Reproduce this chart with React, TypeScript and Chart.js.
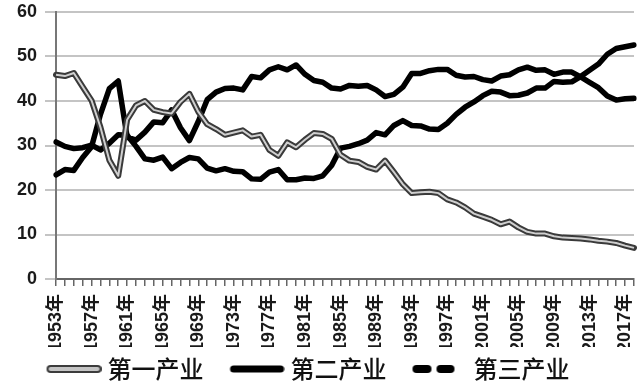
import { useEffect, useRef } from "react";
import { Chart, registerables } from "chart.js";

Chart.register(...registerables);

const years = [
  1953, 1954, 1955, 1956, 1957, 1958, 1959, 1960, 1961, 1962,
  1963, 1964, 1965, 1966, 1967, 1968, 1969, 1970, 1971, 1972,
  1973, 1974, 1975, 1976, 1977, 1978, 1979, 1980, 1981, 1982,
  1983, 1984, 1985, 1986, 1987, 1988, 1989, 1990, 1991, 1992,
  1993, 1994, 1995, 1996, 1997, 1998, 1999, 2000, 2001, 2002,
  2003, 2004, 2005, 2006, 2007, 2008, 2009, 2010, 2011, 2012,
  2013, 2014, 2015, 2016, 2017, 2018,
];

const shownYears = [1953, 1957, 1961, 1965, 1969, 1973, 1977, 1981, 1985, 1989, 1993, 1997, 2001, 2005, 2009, 2013, 2017];

const primary = [
  45.9, 45.6, 46.3, 43.2, 40.1, 34.1, 26.7, 23.2, 35.8, 39.0,
  40.0, 38.0, 37.5, 37.2, 39.8, 41.6, 37.6, 34.8, 33.7, 32.4,
  32.9, 33.4, 32.0, 32.4, 29.0, 27.7, 30.7, 29.6, 31.3, 32.8,
  32.6, 31.5, 27.9, 26.6, 26.3, 25.2, 24.6, 26.6, 24.0, 21.3,
  19.3, 19.5, 19.6, 19.3, 17.9, 17.2, 16.1, 14.7, 14.0, 13.3,
  12.3, 12.9, 11.6, 10.6, 10.2, 10.2, 9.6, 9.3, 9.2, 9.1,
  8.9, 8.6, 8.4, 8.1, 7.5, 7.0,
];

const secondary = [
  23.4, 24.6, 24.4, 27.3, 29.7, 37.0, 42.8, 44.5, 31.9, 31.2,
  33.0, 35.3, 35.1, 38.0, 34.0, 31.1, 35.4, 40.3, 42.0, 42.8,
  42.9, 42.5, 45.5, 45.2, 47.0, 47.7, 47.0, 48.1, 46.0, 44.6,
  44.2, 42.9, 42.7, 43.5, 43.3, 43.5, 42.5, 41.0, 41.5, 43.1,
  46.2, 46.2, 46.8, 47.1, 47.1, 45.8, 45.4, 45.5, 44.8, 44.5,
  45.6, 45.9, 47.0, 47.6, 46.9, 47.0, 46.0, 46.5, 46.5, 45.4,
  44.2, 43.0, 41.1, 40.2, 40.5, 40.6,
];

const tertiary = [
  30.8, 29.8, 29.3, 29.5, 30.1, 29.0, 30.5, 32.4, 32.3, 29.8,
  27.0, 26.7, 27.4, 24.8, 26.2, 27.3, 27.0, 24.9, 24.3, 24.8,
  24.2, 24.1, 22.5, 22.4, 24.0, 24.6, 22.3, 22.3, 22.7, 22.6,
  23.2, 25.5, 29.4, 29.8, 30.4, 31.2, 32.9, 32.4, 34.5, 35.6,
  34.5, 34.4, 33.7, 33.6, 35.0, 37.0, 38.6, 39.8, 41.2, 42.2,
  42.0, 41.2, 41.3, 41.8, 42.9, 42.9, 44.4, 44.2, 44.3, 45.5,
  46.9, 48.3, 50.5, 51.8, 52.2, 52.6,
];

const seriesNames = ["第一产业", "第二产业", "第三产业"];
const yMin = 0;
const yMax = 60;
const yStep = 10;

function makeSwatch(kind: string): HTMLCanvasElement {
  const c = document.createElement("canvas");
  c.width = 77;
  c.height = 12;
  const g = c.getContext("2d")!;
  g.lineCap = "round";
  if (kind === "primary") {
    g.strokeStyle = "#3c3c3c";
    g.lineWidth = 8;
    g.beginPath(); g.moveTo(26, 6); g.lineTo(73, 6); g.stroke();
    g.strokeStyle = "#c4c4c4";
    g.lineWidth = 4;
    g.beginPath(); g.moveTo(26, 6); g.lineTo(73, 6); g.stroke();
  } else if (kind === "secondary") {
    g.strokeStyle = "#000";
    g.lineWidth = 7;
    g.beginPath(); g.moveTo(26, 6); g.lineTo(73, 6); g.stroke();
  } else {
    g.strokeStyle = "#000";
    g.lineWidth = 8;
    g.beginPath(); g.moveTo(26, 6); g.lineTo(37, 6); g.stroke();
    g.beginPath(); g.moveTo(50, 6); g.lineTo(60, 6); g.stroke();
  }
  return c;
}

const legendShift = {
  id: "legendShift",
  afterLayout(chart: any) {
    if (chart.legend) {
      chart.legend.left -= 17;
      chart.legend.right -= 17;
    }
  },
};

export default function App() {
  const ref = useRef<HTMLCanvasElement | null>(null);

  useEffect(() => {
    document.body.style.margin = "0";
    const canvas = ref.current;
    if (!canvas) return;
    const labels = years.map((y) => y + "年");
    const chart = new Chart(canvas, {
      type: "line",
      plugins: [legendShift],
      data: {
        labels,
        datasets: [
          {
            label: "overlay",
            data: primary,
            borderColor: "#cfcfcf",
            borderWidth: 2,
            pointRadius: 0,
            tension: 0,
            order: 0,
            borderJoinStyle: "round",
          },
          {
            label: seriesNames[0],
            data: primary,
            borderColor: "#3a3a3a",
            borderWidth: 6,
            pointRadius: 0,
            pointStyle: makeSwatch("primary"),
            tension: 0,
            order: 1,
            borderJoinStyle: "round",
            borderCapStyle: "round",
          },
          {
            label: seriesNames[1],
            data: secondary,
            borderColor: "#000",
            borderWidth: 5.5,
            pointRadius: 0,
            pointStyle: makeSwatch("secondary"),
            tension: 0,
            order: 2,
            borderJoinStyle: "round",
            borderCapStyle: "round",
          },
          {
            label: seriesNames[2],
            data: tertiary,
            borderColor: "#000",
            borderWidth: 5.5,
            pointRadius: 0,
            pointStyle: makeSwatch("tertiary"),
            tension: 0,
            order: 3,
            borderJoinStyle: "round",
            borderCapStyle: "round",
          },
        ],
      },
      options: {
        responsive: false,
        animation: false,
        layout: { padding: { top: 12, right: 6, left: 0, bottom: -10 } },
        plugins: {
          tooltip: { enabled: false },
          legend: {
            position: "bottom",
            labels: {
              usePointStyle: true,
              pointStyleWidth: 65,
              padding: 10,
              color: "#111",
              font: { size: 24, weight: "500", family: "'Noto Sans CJK SC', sans-serif" },
              filter: (item: any) => item.text !== "overlay",
            },
          },
        },
        scales: {
          x: {
            type: "category",
            offset: false,
            grid: {
              drawOnChartArea: false,
              drawTicks: true,
              tickLength: 7,
              color: "#666",
              lineWidth: 1.5,
            },
            border: { display: true, color: "#666", width: 2 },
            ticks: {
              autoSkip: false,
              maxRotation: 90,
              minRotation: 90,
              padding: 8,
              color: "#1a1a1a",
              font: { size: 18, weight: "bold", family: "'Liberation Sans', 'Noto Sans CJK SC', sans-serif" },
              callback: (_v: any, i: number) => (shownYears.includes(years[i]) ? labels[i] : ""),
            },
            afterFit: (s: any) => {
              s.height = 68;
              s.paddingLeft = 0;
              s.paddingRight = 0;
            },
          },
          y: {
            min: yMin,
            max: yMax,
            ticks: {
              stepSize: yStep,
              padding: 8,
              color: "#1a1a1a",
              font: { size: 18, weight: "bold", family: "'Liberation Sans', sans-serif" },
            },
            grid: {
              color: "#c4c4c4",
              lineWidth: 2,
              tickLength: 11,
            },
            border: { display: true, color: "#777", width: 2 },
            afterFit: (s: any) => {
              s.width = 56;
              s.paddingTop = 0;
              s.paddingBottom = 0;
            },
          },
        },
      },
    });
    return () => chart.destroy();
  }, []);

  return <canvas ref={ref} width={640} height={381} style={{ display: "block" }} />;
}
